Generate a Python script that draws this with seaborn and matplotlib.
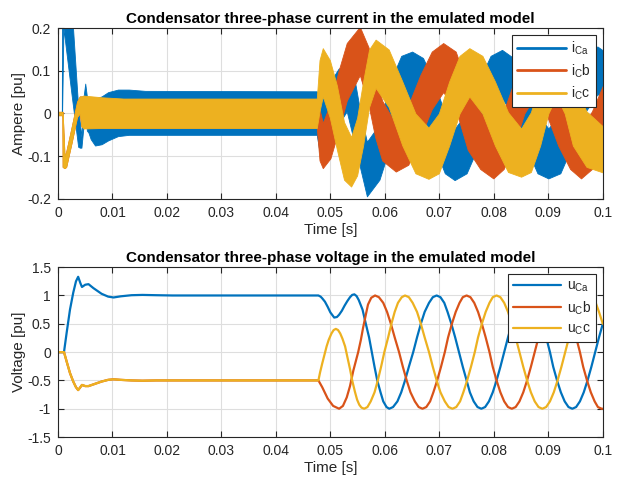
import numpy as np
import pandas as pd
import matplotlib
matplotlib.use("Agg")
import matplotlib.pyplot as plt
import seaborn as sns

# ---- condensator current bands (time, lower envelope, upper envelope) ----
t_ia = [0.0, 0.0007, 0.00075, 0.0010, 0.0025, 0.0037, 0.0040, 0.0043, 0.0046, 0.0050,
        0.0053, 0.0056, 0.0060, 0.0068, 0.0080, 0.0092, 0.0110, 0.0130, 0.0160, 0.0475,
        0.0480, 0.0487, 0.0500, 0.0515, 0.0530, 0.0545, 0.0556, 0.0567, 0.0590, 0.0610,
        0.0630, 0.0650, 0.0670, 0.0690, 0.0710, 0.0728, 0.0750, 0.0772, 0.0794, 0.0815,
        0.0836, 0.0858, 0.0880, 0.0900, 0.0922, 0.0944, 0.0966, 0.0990, 0.1000]
ia_lo = [-0.003, -0.003, -0.003, 0.200, 0.043, -0.078, -0.080, -0.080, -0.040, 0.000,
         -0.040, -0.045, -0.060, -0.075, -0.072, -0.063, -0.053, -0.050, -0.050, -0.050,
         -0.090, -0.120, -0.075, -0.025, 0.005, -0.075, -0.135, -0.194, -0.155, -0.075,
         0.000, 0.030, -0.005, -0.075, -0.140, -0.156, -0.140, -0.075, 0.000, 0.035,
         -0.005, -0.075, -0.140, -0.152, -0.140, -0.075, 0.000, 0.045, 0.040]
ia_hi = [0.003, 0.003, 0.250, 0.250, 0.250, 0.015, -0.020, -0.055, 0.030, 0.070,
         0.040, 0.020, 0.030, 0.035, 0.040, 0.050, 0.056, 0.056, 0.053, 0.052,
         0.030, 0.044, 0.075, 0.105, 0.114, 0.075, -0.005, -0.066, -0.025, 0.075,
         0.135, 0.145, 0.130, 0.075, 0.000, -0.035, 0.000, 0.075, 0.135, 0.149,
         0.130, 0.075, 0.000, -0.035, 0.000, 0.075, 0.135, 0.157, 0.148]

t_ib = [0.0, 0.0008, 0.00085, 0.0012, 0.0015, 0.0025, 0.0035, 0.0040, 0.0043, 0.0047,
        0.0080, 0.0120, 0.0475, 0.0480, 0.0486, 0.0500, 0.0515, 0.0530, 0.0554, 0.0570,
        0.0582, 0.0595, 0.0620, 0.0643, 0.0665, 0.0686, 0.0707, 0.0730, 0.0752, 0.0775,
        0.0799, 0.0818, 0.0837, 0.0856, 0.0875, 0.0896, 0.0918, 0.0940, 0.0960, 0.0980,
        0.1000]
ib_lo = [-0.004, -0.004, -0.125, -0.128, -0.125, -0.068, -0.008, 0.000, -0.030, -0.033,
         -0.033, -0.033, -0.033, -0.110, -0.128, -0.105, -0.040, 0.030, 0.090, 0.020,
         -0.055, -0.110, -0.136, -0.120, -0.055, 0.010, 0.050, 0.010, -0.085, -0.130,
         -0.152, -0.130, -0.075, 0.000, 0.040, 0.000, -0.075, -0.130, -0.152, -0.130,
         -0.085]
ib_hi = [0.004, 0.004, 0.004, -0.100, -0.090, -0.032, 0.028, 0.040, 0.040, 0.040,
         0.036, 0.033, 0.033, 0.010, -0.022, 0.025, 0.100, 0.165, 0.203, 0.155,
         0.090, 0.030, -0.025, 0.020, 0.090, 0.145, 0.165, 0.145, 0.065, 0.005,
         -0.035, 0.005, 0.075, 0.135, 0.153, 0.135, 0.075, 0.005, -0.035, 0.005,
         0.065]

t_ic = [0.0, 0.0008, 0.00085, 0.0012, 0.0015, 0.0025, 0.0035, 0.0040, 0.0043, 0.0047,
        0.0080, 0.0120, 0.0475, 0.0480, 0.0486, 0.0499, 0.0512, 0.0525, 0.0538, 0.0549,
        0.0560, 0.0571, 0.0583, 0.0607, 0.0632, 0.0656, 0.0680, 0.0699, 0.0718, 0.0737,
        0.0755, 0.0779, 0.0802, 0.0826, 0.0850, 0.0868, 0.0885, 0.0900, 0.0915, 0.0930,
        0.0945, 0.0970, 0.1000]
ic_lo = [-0.004, -0.004, -0.125, -0.128, -0.125, -0.068, -0.008, 0.000, -0.030, -0.035,
         -0.034, -0.034, -0.034, 0.005, 0.040, -0.010, -0.085, -0.155, -0.171, -0.145,
         -0.075, 0.015, 0.060, 0.015, -0.075, -0.140, -0.153, -0.140, -0.075, 0.000,
         0.040, 0.000, -0.075, -0.137, -0.148, -0.137, -0.075, 0.000, 0.040, 0.000,
         -0.075, -0.125, -0.138]
ic_hi = [0.004, 0.004, 0.004, -0.100, -0.090, -0.032, 0.028, 0.040, 0.040, 0.042,
         0.038, 0.035, 0.035, 0.125, 0.153, 0.125, 0.065, -0.020, -0.055, -0.010,
         0.075, 0.150, 0.173, 0.150, 0.075, 0.000, -0.033, 0.000, 0.075, 0.135,
         0.153, 0.135, 0.075, 0.003, -0.035, 0.003, 0.075, 0.135, 0.153, 0.135,
         0.075, 0.005, -0.030]

# ---- condensator voltages ----
t_ua = [0.0, 0.0011, 0.0016, 0.0022, 0.0028, 0.0033, 0.0037, 0.0041, 0.0044, 0.0050,
        0.0056, 0.0065, 0.0080, 0.0092, 0.0102, 0.0115, 0.0135, 0.0155, 0.0180, 0.0210,
        0.0478, 0.0482, 0.0485, 0.0490, 0.0495, 0.0500, 0.0507, 0.0512, 0.0516, 0.0521,
        0.0526, 0.0531, 0.0536, 0.0540, 0.0544, 0.0548, 0.0552, 0.0559, 0.0565, 0.0571,
        0.0576, 0.0581, 0.0586, 0.0592, 0.0597, 0.0603, 0.0608,
        0.0615, 0.0623, 0.0630, 0.0637, 0.0644, 0.0652, 0.0659, 0.0666, 0.0673, 0.0681,
        0.0688, 0.0695, 0.0702, 0.0709, 0.0715, 0.0722, 0.0729, 0.0736, 0.0743, 0.0750,
        0.0756, 0.0763, 0.0770, 0.0777, 0.0784, 0.0791, 0.0798, 0.0805, 0.0812, 0.0819,
        0.0826, 0.0833, 0.0840, 0.0847, 0.0854, 0.0861, 0.0868, 0.0875, 0.0882, 0.0889,
        0.0896, 0.0903, 0.0909, 0.0916, 0.0923, 0.0930, 0.0937, 0.0944, 0.0951, 0.0958,
        0.0965, 0.0972, 0.0979, 0.0986, 0.0993, 0.1000]
ua = [0.0, 0.0, 0.35, 0.75, 1.05, 1.25, 1.33, 1.22, 1.15, 1.19,
      1.20, 1.13, 1.03, 0.98, 0.965, 0.985, 1.005, 1.01, 1.005, 1.0,
      1.0, 0.98, 0.95, 0.89, 0.80, 0.70, 0.61, 0.62, 0.66, 0.73,
      0.82, 0.90, 0.97, 1.01, 1.02, 0.99, 0.92, 0.75, 0.50, 0.26,
      0.0, -0.26, -0.50, -0.71, -0.87, -0.97, -1.0,
      -0.97, -0.87, -0.71, -0.50, -0.26, 0.0, 0.26, 0.50, 0.71, 0.87,
      0.97, 1.0, 0.97, 0.87, 0.71, 0.50, 0.26, 0.0, -0.26, -0.50,
      -0.71, -0.87, -0.97, -1.0, -0.97, -0.87, -0.71, -0.50, -0.26, 0.0,
      0.26, 0.50, 0.71, 0.87, 0.97, 1.0, 0.97, 0.87, 0.71, 0.50,
      0.26, 0.0, -0.26, -0.50, -0.71, -0.87, -0.97, -1.0, -0.97, -0.87,
      -0.71, -0.50, -0.26, 0.0, 0.26, 0.50]

t_ub = [0.0, 0.0011, 0.0016, 0.0022, 0.0028, 0.0033, 0.0037, 0.0041, 0.0044, 0.0050,
        0.0056, 0.0065, 0.0080, 0.0092, 0.0102, 0.0115, 0.0135, 0.0155, 0.0180, 0.0478,
        0.0485, 0.0495, 0.0505, 0.0516, 0.0523, 0.0530, 0.0536, 0.0542, 0.0551, 0.0556,
        0.0560, 0.0565, 0.0569, 0.0575, 0.0582,
        0.0589, 0.0597, 0.0604, 0.0611, 0.0618, 0.0626, 0.0633, 0.0640, 0.0647, 0.0655,
        0.0662, 0.0669, 0.0676, 0.0683, 0.0689, 0.0696, 0.0703, 0.0710, 0.0716, 0.0723,
        0.0730, 0.0737, 0.0743, 0.0750, 0.0757, 0.0764, 0.0771, 0.0778, 0.0785, 0.0792,
        0.0798, 0.0805, 0.0812, 0.0819, 0.0826, 0.0833, 0.0840, 0.0847, 0.0854, 0.0861,
        0.0868, 0.0875, 0.0882, 0.0889, 0.0896, 0.0903, 0.0910, 0.0917, 0.0924, 0.0931,
        0.0937, 0.0944, 0.0951, 0.0958, 0.0964, 0.0971, 0.0978, 0.0985, 0.0991, 0.0998,
        0.1000]
ub = [0.0, 0.0, -0.17, -0.37, -0.52, -0.62, -0.67, -0.62, -0.58, -0.60,
      -0.60, -0.57, -0.52, -0.49, -0.48, -0.49, -0.50, -0.505, -0.50, -0.50,
      -0.62, -0.82, -0.95, -1.0, -0.95, -0.80, -0.60, -0.33, 0.0, 0.22,
      0.43, 0.66, 0.84, 0.96, 1.0,
      0.97, 0.87, 0.71, 0.50, 0.26, 0.0, -0.26, -0.50, -0.71, -0.87,
      -0.97, -1.0, -0.97, -0.87, -0.71, -0.50, -0.26, 0.0, 0.26, 0.50,
      0.71, 0.87, 0.97, 1.0, 0.97, 0.87, 0.71, 0.50, 0.26, 0.0,
      -0.26, -0.50, -0.71, -0.87, -0.97, -1.0, -0.97, -0.87, -0.71, -0.50,
      -0.26, 0.0, 0.26, 0.50, 0.71, 0.87, 0.97, 1.0, 0.97, 0.87,
      0.71, 0.50, 0.26, 0.0, -0.26, -0.50, -0.71, -0.87, -0.97, -1.0,
      -1.0]

t_uc = [0.0, 0.0011, 0.0016, 0.0022, 0.0028, 0.0033, 0.0037, 0.0041, 0.0044, 0.0050,
        0.0056, 0.0065, 0.0080, 0.0092, 0.0102, 0.0115, 0.0135, 0.0155, 0.0180, 0.0478,
        0.0481, 0.0485, 0.0489, 0.0493, 0.0497, 0.0502, 0.0506, 0.0510, 0.0514, 0.0518,
        0.0522, 0.0527, 0.0531, 0.0536, 0.0540, 0.0545, 0.0549, 0.0553, 0.0557, 0.0562,
        0.0568, 0.0574, 0.0581, 0.0587, 0.0593, 0.0599, 0.0606, 0.0612, 0.0618, 0.0624,
        0.0631, 0.0637, 0.0644, 0.0651, 0.0659, 0.0666, 0.0673, 0.0681, 0.0688, 0.0695,
        0.0702, 0.0710, 0.0717, 0.0724, 0.0731, 0.0738, 0.0744, 0.0751, 0.0758, 0.0765,
        0.0771, 0.0778, 0.0785, 0.0792, 0.0798, 0.0805, 0.0812, 0.0819, 0.0826, 0.0833,
        0.0840, 0.0847, 0.0854, 0.0861, 0.0868, 0.0875, 0.0882, 0.0889, 0.0896, 0.0903,
        0.0910, 0.0917, 0.0924, 0.0931, 0.0938, 0.0945, 0.0952, 0.0959, 0.0966, 0.0973,
        0.0980, 0.0987, 0.0993, 0.1000]
uc = [0.0, 0.0, -0.17, -0.37, -0.52, -0.62, -0.67, -0.62, -0.58, -0.60,
      -0.60, -0.57, -0.52, -0.49, -0.48, -0.49, -0.50, -0.505, -0.50, -0.50,
      -0.36, -0.20, -0.05, 0.10, 0.22, 0.33, 0.39, 0.41, 0.39, 0.33,
      0.24, 0.10, -0.08, -0.30, -0.50, -0.70, -0.84, -0.93, -0.98, -1.0,
      -0.97, -0.87, -0.71, -0.50, -0.26, 0.0, 0.26, 0.50, 0.71, 0.87,
      0.97, 1.0, 0.97, 0.87, 0.71, 0.50, 0.26, 0.0, -0.26, -0.50,
      -0.71, -0.87, -0.97, -1.0, -0.97, -0.87, -0.71, -0.50, -0.26, 0.0,
      0.26, 0.50, 0.71, 0.87, 0.97, 1.0, 0.97, 0.87, 0.71, 0.50,
      0.26, 0.0, -0.26, -0.50, -0.71, -0.87, -0.97, -1.0, -0.97, -0.87,
      -0.71, -0.50, -0.26, 0.0, 0.26, 0.50, 0.71, 0.87, 0.97, 1.0,
      0.97, 0.87, 0.71, 0.50]

current_labels = [r"i$_{\mathregular{Ca}}$", r"i$_{\mathregular{C}}$b", r"i$_{\mathregular{C}}$c"]
voltage_labels = [r"u$_{\mathregular{Ca}}$", r"u$_{\mathregular{C}}$b", r"u$_{\mathregular{C}}$c"]
x_ticks = [0, 0.01, 0.02, 0.03, 0.04, 0.05, 0.06, 0.07, 0.08, 0.09, 0.1]
x_ticklabels = ["0", "0.01", "0.02", "0.03", "0.04", "0.05", "0.06", "0.07", "0.08", "0.09", "0.1"]
i_ticks = [-0.2, -0.1, 0, 0.1, 0.2]
i_ticklabels = ["-0.2", "-0.1", "0", "0.1", "0.2"]
u_ticks = [-1.5, -1, -0.5, 0, 0.5, 1, 1.5]
u_ticklabels = ["-1.5", "-1", "-0.5", "0", "0.5", "1", "1.5"]

colors = ["#0072BD", "#D95319", "#EDB120"]
dark = "#262626"

sns.set_theme(style="whitegrid")
plt.rcParams["font.family"] = ["Liberation Sans", "DejaVu Sans"]
plt.rcParams["axes.unicode_minus"] = False
plt.rcParams["mathtext.fontset"] = "custom"
plt.rcParams["mathtext.rm"] = "Liberation Sans"


def style_axes(ax, yticks, ylabels, ylim, ylabel, title):
    ax.set_xlim(0, 0.1)
    ax.set_ylim(*ylim)
    ax.set_xticks(x_ticks)
    ax.set_xticklabels(x_ticklabels)
    ax.set_yticks(yticks)
    ax.set_yticklabels(ylabels)
    ax.set_facecolor("white")
    ax.grid(True, color="#dedede", linewidth=0.8)
    for s in ax.spines.values():
        s.set_visible(True)
        s.set_color(dark)
        s.set_linewidth(0.8)
    ax.tick_params(axis="both", direction="in", length=4, width=0.8, colors=dark,
                   labelsize=10, labelcolor=dark, top=True, right=True,
                   bottom=True, left=True, pad=5)
    ax.set_xlabel("Time [s]", fontsize=11, color=dark, labelpad=2)
    ax.set_ylabel(ylabel, fontsize=11, color=dark, labelpad=1)
    ax.set_title(title, fontsize=11, fontweight="bold", color="black", pad=4)


fig = plt.figure(figsize=(6.17, 4.84), dpi=100)
ax1 = fig.add_axes([0.094, 0.589, 0.883, 0.353])
ax2 = fig.add_axes([0.094, 0.097, 0.883, 0.351])

# current: ripple drawn as filled bands, yellow on top like the original
bands = [(t_ia, ia_lo, ia_hi), (t_ib, ib_lo, ib_hi), (t_ic, ic_lo, ic_hi)]
for (t, lo, hi), col, lab in zip(bands, colors, current_labels):
    ax1.fill_between(t, lo, hi, color=col, linewidth=0.6, edgecolor=col)
    ax1.plot([], [], color=col, linewidth=2, label=lab)
style_axes(ax1, i_ticks, i_ticklabels, (-0.2, 0.2), "Ampere [pu]",
           "Condensator three-phase current in the emulated model")

volt = [(t_ua, ua), (t_ub, ub), (t_uc, uc)]
for (t, u), col, lab in zip(volt, colors, voltage_labels):
    df = pd.DataFrame({"t": t, "u": u})
    sns.lineplot(data=df, x="t", y="u", color=col, linewidth=1.6, label=lab,
                 estimator=None, sort=False, ax=ax2)
style_axes(ax2, u_ticks, u_ticklabels, (-1.5, 1.5), "Voltage [pu]",
           "Condensator three-phase voltage in the emulated model")

for ax in (ax1, ax2):
    leg = ax.legend(loc="upper right", fontsize=10, frameon=True, fancybox=False,
                    edgecolor=dark, framealpha=1, handlelength=3.5,
                    borderaxespad=0.5, labelspacing=0.35, borderpad=0.35,
                    handletextpad=0.4)
    leg.get_frame().set_linewidth(0.8)

fig.savefig("out.png", dpi=100)
